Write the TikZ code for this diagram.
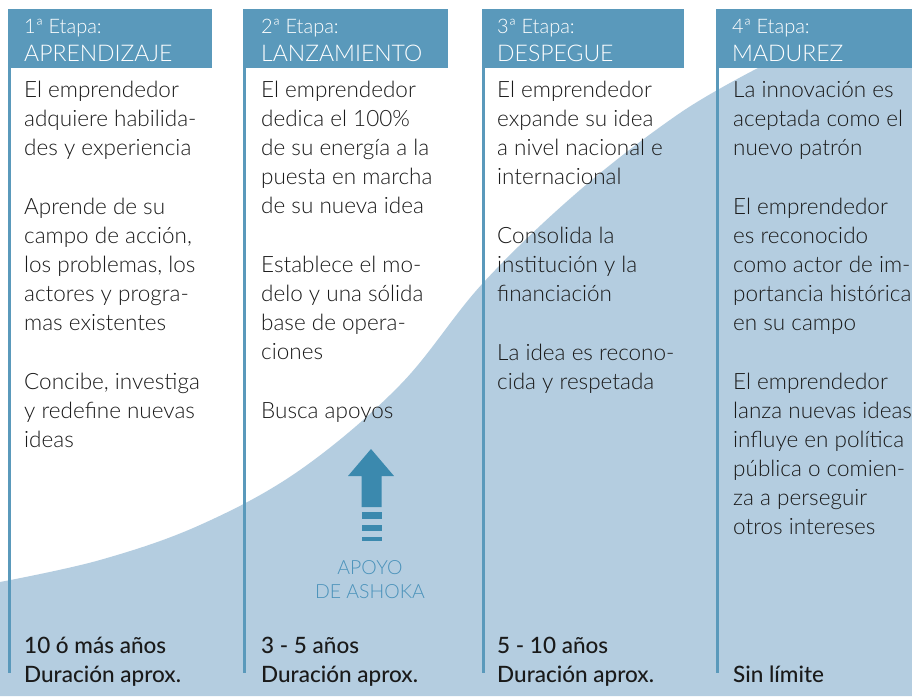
\documentclass[tikz,border=0pt]{standalone}
\usepackage{fontspec}
\setmainfont{Lato}
\newfontfamily\lightfont{Lato Light}
\newfontfamily\medfont{Lato Medium}
\definecolor{hdr}{HTML}{5A99BB}
\definecolor{lightfill}{HTML}{B4CDE0}
\definecolor{arrowblue}{HTML}{3B89AE}
\definecolor{ashoka}{HTML}{4A92BA}
\definecolor{txt}{HTML}{1A1A1A}
\newcommand\colpar[1]{\parbox[t]{240pt}{\raggedright\lightfont\fontsize{22.5}{29}\selectfont #1}}
\newcommand\hdrpar[2]{\parbox[t]{200pt}{\raggedright\lightfont\fontsize{20}{28}\selectfont #1\\\fontsize{23}{28}\selectfont #2}}
\newcommand\botpar[1]{\parbox[t]{200pt}{\raggedright\medfont\fontsize{22.5}{29}\selectfont #1}}
\tikzset{
  hdrbox/.style={fill=hdr, draw=none},
  colline/.style={draw=hdr, line width=3pt},
  hdrtext/.style={anchor=base west, inner sep=0pt, text=white},
  bodytext/.style={anchor=base west, inner sep=0pt, text=txt},
  ashokatext/.style={anchor=base, inner sep=0pt, text=ashoka, font=\lightfont\fontsize{19.5}{25}\selectfont},
}
\begin{document}
\begin{tikzpicture}[x=1pt,y=-1pt]
\useasboundingbox (0,0) rectangle (912,696);
\clip (0,0) rectangle (912,696);
\fill[white] (0,0) rectangle (912,696);
% growth area
\fill[lightfill] plot[smooth, tension=0.6] coordinates {(0,582) (100,560) (200,525) (300,470) (400,385) (483,283) (580,190) (680,113) (758,68)} -- (912,68) -- (912,696) -- (0,696) -- cycle;
% headers
\fill[hdrbox] (8,9) rectangle (212,68);
\fill[hdrbox] (243,9) rectangle (448,68);
\fill[hdrbox] (482,9) rectangle (684,68);
\fill[hdrbox] (716,9) rectangle (912,68);
% column lines
\coordinate (l1t) at (9.5,68);  \coordinate (l1b) at (9.5,673);
\coordinate (l2t) at (244.5,68); \coordinate (l2b) at (244.5,673);
\coordinate (l3t) at (483.5,68); \coordinate (l3b) at (483.5,673);
\coordinate (l4t) at (717.5,68); \coordinate (l4b) at (717.5,673);
\draw[colline] (l1t) -- (l1b);
\draw[colline] (l2t) -- (l2b);
\draw[colline] (l3t) -- (l3b);
\draw[colline] (l4t) -- (l4b);
% header texts
\node[hdrtext] (h1) at (24,33) {\hdrpar{1ª Etapa:}{APRENDIZAJE}};
\node[hdrtext] (h2) at (261,33) {\hdrpar{2ª Etapa:}{LANZAMIENTO}};
\node[hdrtext] (h3) at (497,33) {\hdrpar{3ª Etapa:}{DESPEGUE}};
\node[hdrtext] (h4) at (732,33) {\hdrpar{4ª Etapa:}{MADUREZ}};
% column 1
\node[bodytext] (c1a) at (24,97) {\colpar{El emprendedor\\adquiere habilida-\\des y experiencia}};
\node[bodytext] (c1b) at (24,214) {\colpar{Aprende de su\\campo de acción,\\los problemas, los\\actores y progra-\\mas existentes}};
\node[bodytext] (c1c) at (24,389) {\colpar{Concibe, investiga\\y redefine nuevas\\ideas}};
% column 2
\node[bodytext] (c2a) at (261,97) {\colpar{El emprendedor\\dedica el 100\%\\de su energía a la\\puesta en marcha\\de su nueva idea}};
\node[bodytext] (c2b) at (261,272) {\colpar{Establece el mo-\\delo y una sólida\\base de opera-\\ciones}};
\node[bodytext] (c2c) at (261,418) {\colpar{Busca apoyos}};
% column 3
\node[bodytext] (c3a) at (497,97) {\colpar{El emprendedor\\expande su idea\\a nivel nacional e\\internacional}};
\node[bodytext] (c3b) at (497,243) {\colpar{Consolida la\\institución y la\\financiación}};
\node[bodytext] (c3c) at (497,360) {\colpar{La idea es recono-\\cida y respetada}};
% column 4
\node[bodytext] (c4a) at (733,97) {\colpar{La innovación es\\aceptada como el\\nuevo patrón}};
\node[bodytext] (c4b) at (733,214) {\colpar{El emprendedor\\es reconocido\\como actor de im-\\portancia histórica\\en su campo}};
\node[bodytext] (c4c) at (733,389) {\colpar{El emprendedor\\lanza nuevas ideas\\influye en política\\pública o comien-\\za a perseguir\\otros intereses}};
% durations
\node[bodytext] (d1) at (24,653) {\botpar{10 ó más años\\Duración aprox.}};
\node[bodytext] (d2) at (261,653) {\botpar{3 - 5 años\\Duración aprox.}};
\node[bodytext] (d3) at (497,653) {\botpar{5 - 10 años\\Duración aprox.}};
\node[bodytext] (d4) at (733,682) {\botpar{Sin límite}};
% Ashoka arrow
\fill[arrowblue] (371,449) -- (394,476) -- (381.5,476) -- (381.5,507) -- (361.5,507) -- (361.5,476) -- (348,476) -- cycle;
\fill[arrowblue] (361.5,512) rectangle (381.5,519);
\fill[arrowblue] (361.5,525) rectangle (381.5,531);
\fill[arrowblue] (361.5,537) rectangle (381.5,541);
\node[ashokatext] (ap1) at (370,574) {APOYO};
\node[ashokatext] (ap2) at (370,598) {DE ASHOKA};
\end{tikzpicture}
\end{document}
